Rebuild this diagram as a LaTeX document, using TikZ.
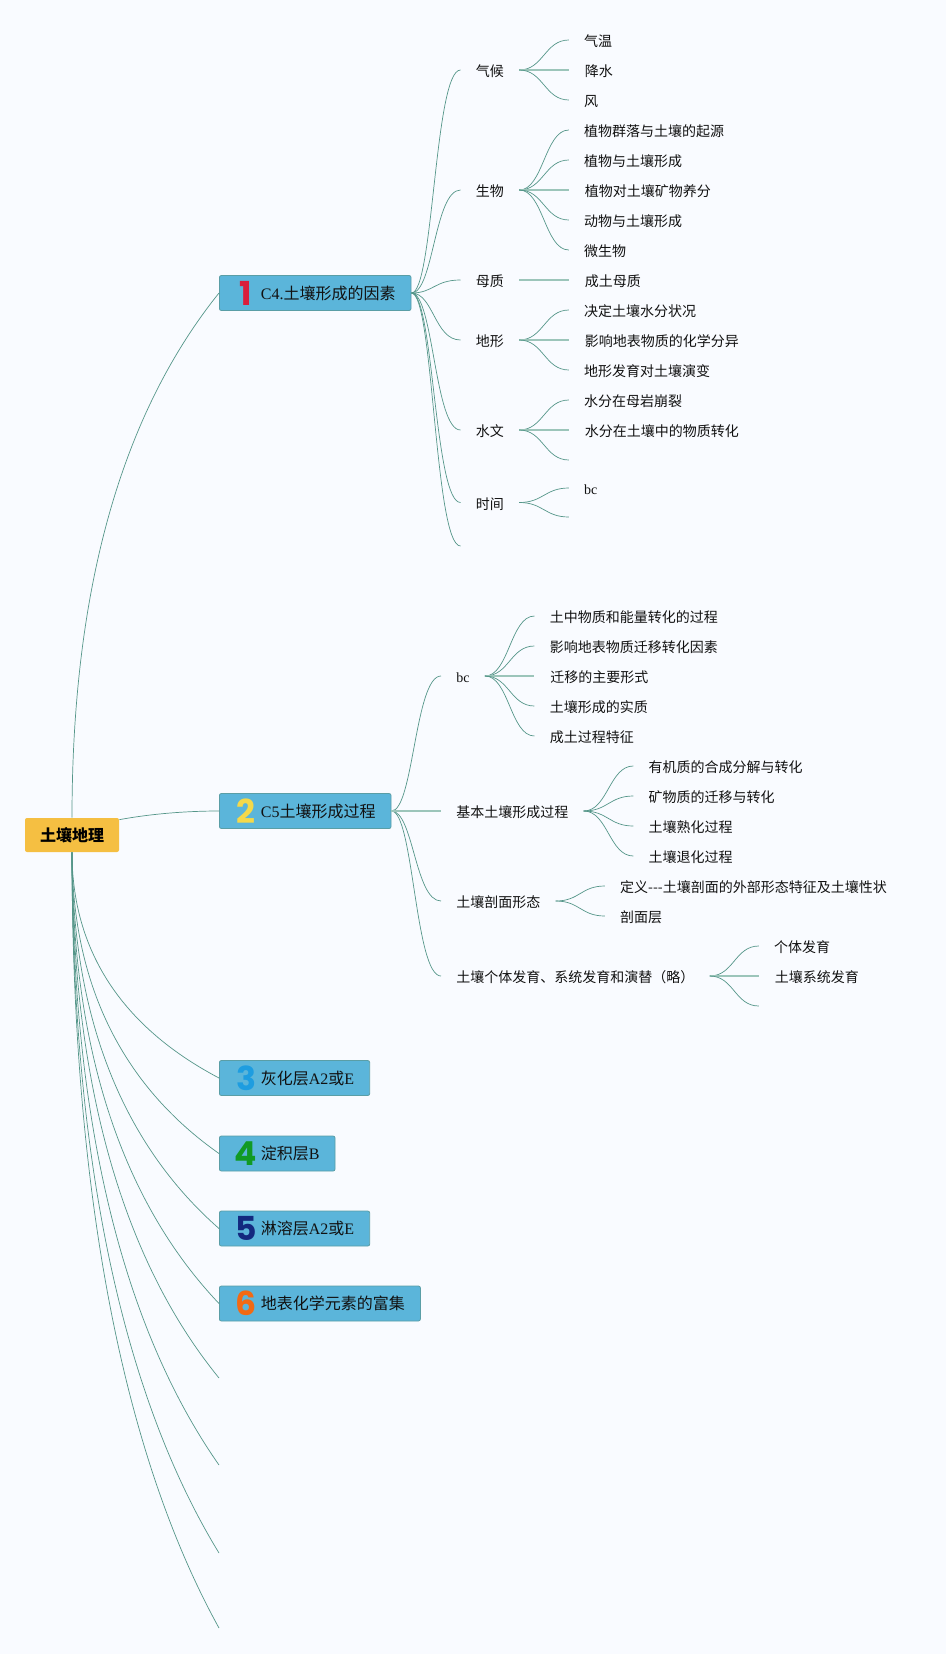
\documentclass[tikz,border=0pt]{standalone}
\usepackage{fontspec}
\setmainfont{Liberation Serif}
\newfontfamily\cjk{Noto Sans CJK SC}
\newfontfamily\numfont{Poppins}
\newcommand{\zh}[1]{{\cjk #1}}
\usetikzlibrary{calc,trees,positioning}
\definecolor{paper}{HTML}{F9FBFF}
\definecolor{ink}{HTML}{111111}
\definecolor{link}{HTML}{559689}
\definecolor{linkpale}{HTML}{9CC5BA}
\definecolor{topicfill}{HTML}{5BB5DA}
\definecolor{topicline}{HTML}{5A9EA6}
\definecolor{rootfill}{HTML}{F5BF42}
\definecolor{numred}{HTML}{D91E3C}
\definecolor{numyellow}{HTML}{F5D94A}
\definecolor{numblue}{HTML}{1E9DE0}
\definecolor{numgreen}{HTML}{119A24}
\definecolor{numnavy}{HTML}{13297F}
\definecolor{numorange}{HTML}{F26A14}
\tikzset{%
  root/.style={rectangle,rounded corners=2pt,fill=rootfill,inner xsep=15pt,minimum height=34pt,%
               text=black,font=\fontsize{16pt}{18pt}\selectfont\bfseries},
  topic/.style={rectangle,rounded corners=2pt,fill=topicfill,draw=topicline,line width=.8pt,anchor=west,%
                inner xsep=15.5pt,minimum height=35pt,text=ink,font=\fontsize{16pt}{18pt}\selectfont,%
                execute at begin node=\hspace*{26pt}},
  badge/.style={inner sep=0pt,font=\fontsize{33pt}{33pt}\selectfont\numfont\bfseries},
  sub/.style={anchor=west,inner xsep=15pt,inner ysep=0pt,text=ink,text height=15pt,text depth=2pt,%
              font=\fontsize{14pt}{16pt}\selectfont},
  leaf/.style={sub},
  link/.style={draw=link,line width=.7pt},
  flat/.style={line width=1.8pt,linkpale},
}
\begin{document}
\begin{tikzpicture}[x=1pt,y=-1pt,grow'=east,sibling distance=30pt,line width=.7pt,link,%
                    edge from parent path={(\tikzparentnode.east) .. controls +(24,0) and +(-24,0) .. (\tikzchildnode.west)}]
  \fill[paper] (0,0) rectangle (946,1654);
  \useasboundingbox (0,0) rectangle (946,1654);

  \node[root] (root) at (72,835) {\zh{土壤地理}};
  \node[topic] (c4) at (219,293) {C4.\zh{土壤形成的因素}};
  \node[topic] (c5) at (219,811) {C5\zh{土壤形成过程}};
  \node[topic] (hua) at (219,1078) {\zh{灰化层}A2\zh{或}E};
  \node[topic] (dian) at (219,1153.5) {\zh{淀积层}B};
  \node[topic] (lin) at (219,1228.5) {\zh{淋溶层}A2\zh{或}E};
  \node[topic] (fu) at (219,1303.5) {\zh{地表化学元素的富集}};
  \coordinate (tail1) at (219,1378);
  \coordinate (tail2) at (219,1465);
  \coordinate (tail3) at (219,1553);
  \coordinate (tail4) at (219,1628);
  \coordinate (c4tail) at (460.5,546);

  \foreach \nd/\num/\col in {c4/1/numred,c5/2/numyellow,hua/3/numblue,dian/4/numgreen,lin/5/numnavy,fu/6/numorange}
    \node[badge,text=\col] (num\num) at ([xshift=27pt]\nd.west) {\num};

  % C4
  \node[sub] (qihou) at (460.5,70) {\zh{气候}}
    [level distance=79pt]
    child {node[leaf] {\zh{气温}}}
    child[flat] {node[leaf] {\zh{降水}}}
    child {node[leaf] {\zh{风}}};
  \node[sub] (shengwu) at (460.5,190) {\zh{生物}}
    [level distance=79pt]
    child {node[leaf] {\zh{植物群落与土壤的起源}}}
    child {node[leaf] {\zh{植物与土壤形成}}}
    child[flat] {node[leaf] {\zh{植物对土壤矿物养分}}}
    child {node[leaf] {\zh{动物与土壤形成}}}
    child {node[leaf] {\zh{微生物}}};
  \node[sub] (muzhi) at (460.5,280) {\zh{母质}}
    [level distance=79pt]
    child[flat] {node[leaf] {\zh{成土母质}}};
  \node[sub] (dixing) at (460.5,340) {\zh{地形}}
    [level distance=79pt]
    child {node[leaf] {\zh{决定土壤水分状况}}}
    child[flat] {node[leaf] {\zh{影响地表物质的化学分异}}}
    child {node[leaf] {\zh{地形发育对土壤演变}}};
  \node[sub] (shuiwen) at (460.5,430) {\zh{水文}}
    [level distance=79pt]
    child {node[leaf] {\zh{水分在母岩崩裂}}}
    child[flat] {node[leaf] {\zh{水分在土壤中的物质转化}}}
    child {node[leaf] {}};
  \node[sub] (shijian) at (460.5,502.5) {\zh{时间}}
    [level distance=79pt,sibling distance=29pt]
    child {node[leaf] {bc}}
    child {node[leaf] {}};

  % C5
  \node[sub] (bc) at (441,676) {bc}
    [level distance=71.5pt]
    child {node[leaf] {\zh{土中物质和能量转化的过程}}}
    child {node[leaf] {\zh{影响地表物质迁移转化因素}}}
    child[flat] {node[leaf] {\zh{迁移的主要形式}}}
    child {node[leaf] {\zh{土壤形成的实质}}}
    child {node[leaf] {\zh{成土过程特征}}};
  \node[sub] (jiben) at (441,811) {\zh{基本土壤形成过程}}
    [level distance=121pt]
    child {node[leaf] {\zh{有机质的合成分解与转化}}}
    child {node[leaf] {\zh{矿物质的迁移与转化}}}
    child {node[leaf] {\zh{土壤熟化过程}}}
    child {node[leaf] {\zh{土壤退化过程}}};
  \node[sub] (poumian) at (441,901) {\zh{土壤剖面形态}}
    [level distance=106.5pt]
    child {node[leaf] {\zh{定义}{\cjk -{}-{}-}\zh{土壤剖面的外部形态特征及土壤性状}}}
    child {node[leaf] {\zh{剖面层}}};
  \node[sub] (geti) at (441,976) {\zh{土壤个体发育、系统发育和演替（略）}}
    [level distance=183.5pt]
    child {node[leaf] {\zh{个体发育}}}
    child[flat] {node[leaf] {\zh{土壤系统发育}}}
    child {node[leaf] {}};

  % branches
  \foreach \nd in {qihou,shengwu,muzhi,dixing,shuiwen,shijian}
    \draw[link] (c4.east) .. controls +(22,0) and +(-26,0) .. (\nd.west);
  \draw[link] (c4.east) .. controls +(22,0) and +(-26,0) .. (c4tail);
  \foreach \nd in {bc,poumian,geti}
    \draw[link] (c5.east) .. controls +(22,0) and +(-26,0) .. (\nd.west);
  \draw[link,flat] (c5.east) -- (jiben.west);

  \draw[link] (root.north) .. controls (72,590) and (121,415) .. (c4.west);
  \draw[link] ([yshift=-2pt]root.north east) .. controls (150,814) and (185,811) .. (c5.west);
  \foreach \nd in {hua.west,dian.west,lin.west,fu.west,tail1,tail2,tail3,tail4}
    \draw[link] let \p1=(root.south), \p2=(\nd) in (\p1) .. controls (\x1,{\y1+.43*(\y2-\y1)}) and ({\x1+.33*(\x2-\x1)},{\y2-.23*(\y2-\y1)}) .. (\p2);
\end{tikzpicture}
\end{document}
